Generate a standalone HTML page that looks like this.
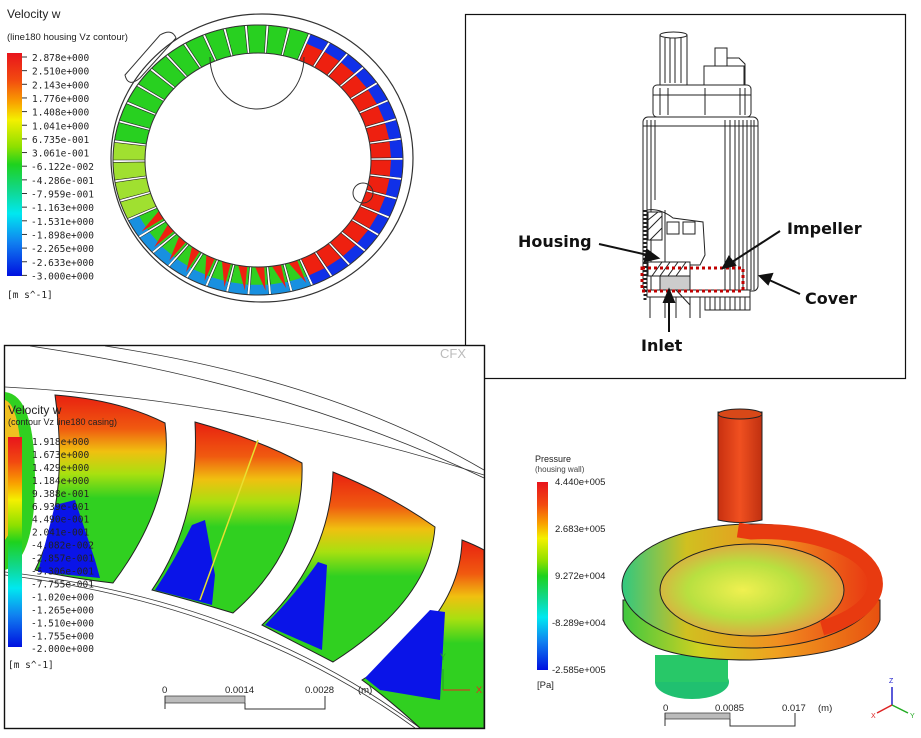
<!DOCTYPE html>
<html><head><meta charset="utf-8"><style>
html,body{margin:0;padding:0;background:#fff;width:921px;height:738px;overflow:hidden}
svg{display:block}
text{font-family:"Liberation Sans",sans-serif}
.lg{font-family:"DejaVu Sans Mono","Liberation Mono",monospace;font-size:9.5px;fill:#222}
.lb{font-family:"DejaVu Sans","Liberation Sans",sans-serif;font-weight:bold;font-size:16px;fill:#111}
</style></head><body>
<svg id="s" width="921" height="738" viewBox="0 0 921 738" xmlns="http://www.w3.org/2000/svg">
<defs>
<linearGradient id="rain" x1="0" y1="0" x2="0" y2="1">
<stop offset="0" stop-color="#e8141c"/><stop offset="0.12" stop-color="#f24a10"/><stop offset="0.22" stop-color="#f9a000"/><stop offset="0.3" stop-color="#f4f000"/><stop offset="0.42" stop-color="#8ee000"/><stop offset="0.5" stop-color="#1ed21e"/><stop offset="0.62" stop-color="#10d890"/><stop offset="0.72" stop-color="#00e8f0"/><stop offset="0.85" stop-color="#1080f0"/><stop offset="1" stop-color="#0010e0"/>
</linearGradient>
<linearGradient id="blade" x1="0" y1="0" x2="0" y2="1">
<stop offset="0" stop-color="#e82010"/><stop offset="0.18" stop-color="#f05a10"/><stop offset="0.3" stop-color="#f0c010"/><stop offset="0.42" stop-color="#a8e010"/><stop offset="0.55" stop-color="#30d020"/><stop offset="1" stop-color="#30d020"/>
</linearGradient>
<linearGradient id="press" x1="0" y1="0" x2="1" y2="0">
<stop offset="0" stop-color="#40c840"/><stop offset="0.3" stop-color="#d0d020"/><stop offset="0.6" stop-color="#f0a020"/><stop offset="1" stop-color="#e85010"/>
</linearGradient>
<radialGradient id="disk" cx="0.45" cy="0.5" r="0.6">
<stop offset="0" stop-color="#f0f050"/><stop offset="0.5" stop-color="#b8e040"/><stop offset="1" stop-color="#f09040"/>
</radialGradient>
<linearGradient id="tube" x1="0" y1="0" x2="1" y2="0">
<stop offset="0" stop-color="#c83010"/><stop offset="0.5" stop-color="#f05020"/><stop offset="1" stop-color="#c03010"/>
</linearGradient>
<linearGradient id="torus" x1="0" y1="0" x2="1" y2="0">
<stop offset="0" stop-color="#30c880"/><stop offset="0.25" stop-color="#d0c020"/><stop offset="0.6" stop-color="#f09020"/><stop offset="1" stop-color="#e83010"/>
</linearGradient>
</defs>

<!-- TOP LEFT -->
<text x="7" y="18" font-size="12" fill="#222">Velocity  w</text>
<text x="7" y="40" font-size="9.5" fill="#222">(line180  housing  Vz  contour)</text>
<rect x="7" y="53" width="15" height="223" fill="url(#rain)"/>
<g id="tl-labels"></g>
<text x="7" y="298" class="lg">[m  s^-1]</text>
<ellipse cx="262" cy="158" rx="151" ry="144" fill="none" stroke="#333" stroke-width="1.2"/>
<g id="ring"></g>
<ellipse cx="258" cy="160" rx="113" ry="107" fill="#fff" stroke="#333" stroke-width="1"/>
<path d="M210,57 A47,52 0 0 0 304,57" fill="none" stroke="#333"/>
<path d="M125,75 L160,35 Q172,28 176,38 L140,78 Q128,88 125,75Z" fill="none" stroke="#333"/>
<circle cx="363" cy="193" r="10" fill="none" stroke="#333"/>

<!-- TOP RIGHT PANEL -->
<rect x="465.5" y="14.5" width="440" height="364" fill="#fff" stroke="#111" stroke-width="1.2"/>
<g stroke="#222" fill="none" stroke-width="1">
<rect x="660" y="35" width="27" height="50" fill="#fff"/>
<ellipse cx="673.5" cy="35" rx="13.5" ry="3" fill="#fff"/>
<path d="M665,38V83 M670,38V83 M675,38V83 M681,38V83"/>
<rect x="715" y="48" width="12" height="18"/>
<rect x="704" y="66" width="40" height="19"/>
<path d="M727,58 H739 L745,64 V85"/>
<rect x="653" y="85" width="98" height="32" rx="4" fill="#fff"/>
<path d="M660,88V115 M668,88V115 M740,88V115 M745,88V115 M705,88V115 M653,95H751"/>
<rect x="643" y="117" width="115" height="174" rx="5" fill="#fff"/>
<path d="M647,120V290 M651,120V290 M655,120V200 M725,120V290 M730,120V290 M735,120V290 M739,120V290 M743,120V290 M747,120V290 M751,120V290 M754,120V290 M643,126H758"/>
<path d="M647,210 Q660,208 673,218 L703,222 L705,255 L700,265 L665,265 L665,210" fill="#fff"/>
<rect x="648" y="212" width="14" height="28" fill="#fff"/>
<path d="M648,220 L658,212 M648,230 L662,216 M650,240 L662,228"/>
<rect x="667" y="222" width="12" height="12"/><rect x="683" y="222" width="12" height="12"/>
<path d="M645,210V300" stroke-width="3" stroke-dasharray="2,2"/>
<rect x="648" y="262" width="42" height="14" fill="#fff"/>
<path d="M652,276 L662,262 M660,276 L670,262 M668,276 L678,262 M676,276 L686,262"/>
<rect x="660" y="276" width="30" height="14" fill="#ccc"/>
<rect x="647" y="290" width="103" height="7" fill="#fff"/>
<path d="M650,297V318 M665,297V318 M676,297V318 M690,297V318 M700,297V318"/>
<path d="M676,290 L690,305 L690,318 M705,297V310 H750 V297 M710,297V310 M715,297V310 M720,297V310 M725,297V310 M730,297V310 M735,297V310 M740,297V310 M745,297V310"/>
</g>
<rect x="642" y="268" width="101" height="23" fill="none" stroke="#c00000" stroke-width="3" stroke-dasharray="3,3"/>
<text x="518" y="247" class="lb">Housing</text>
<text x="787" y="234" class="lb">Impeller</text>
<text x="805" y="304" class="lb">Cover</text>
<text x="641" y="351" class="lb">Inlet</text>
<g stroke="#111" stroke-width="2" fill="#111">
<path d="M599,244 L652,256" fill="none"/><path d="M658,258 L647,250 L645,261Z"/>
<path d="M780,231 L729,264" fill="none"/><path d="M723,268 L729,257 L735,265Z"/>
<path d="M800,294 L767,279" fill="none"/><path d="M760,276 L772,274 L768,284Z"/>
<path d="M669,332 V296" fill="none"/><path d="M669,290 L664,302 L674,302Z"/>
</g>

<!-- BOTTOM LEFT PANEL -->
<rect x="4.5" y="345.5" width="480" height="383" fill="#fff" stroke="#111" stroke-width="1.4"/>
<svg x="5" y="346" width="479" height="382" viewBox="5 346 479 382">
<g fill="none" stroke="#333" stroke-width="0.8">
<path d="M105,346 Q330,380 484,470"/>
<path d="M30,346 Q290,385 484,478"/>
<path d="M5,387 Q250,400 484,475"/>
<path d="M5,572 Q250,600 420,728"/>
<path d="M5,575 Q245,605 415,728"/>
</g>
<path d="M5,392 Q35,395 35,480 Q35,560 5,570Z" fill="#30d020"/>
<path d="M5,400 Q20,405 22,470 Q20,520 5,540Z" fill="#f0c020"/>
<path d="M55,395 Q120,400 165,423 Q175,500 113,583 Q70,578 35,570 Q70,500 55,395Z" fill="url(#blade)" stroke="#222"/>
<path d="M55,505 L75,500 L95,560 L100,578 L38,572Z" fill="#0a14e8"/>
<path d="M195,422 Q260,440 302,463 Q305,550 233,613 Q190,600 152,590 Q200,520 195,422Z" fill="url(#blade)" stroke="#222"/>
<path d="M192,525 L205,520 L215,575 L212,605 L155,590 Q175,560 192,525Z" fill="#0a14e8"/>
<path d="M333,472 Q390,495 435,527 Q430,600 333,662 Q300,645 262,625 Q330,560 333,472Z" fill="url(#blade)" stroke="#222"/>
<path d="M318,562 L327,565 L322,650 L265,625 Q295,595 318,562Z" fill="#0a14e8"/>
<path d="M462,540 Q475,545 484,550 L484,728 L420,728 Q390,700 362,680 Q460,620 462,540Z" fill="url(#blade)" stroke="#222"/>
<path d="M430,610 L445,612 L440,700 L380,690 L365,678Z" fill="#0a14e8"/>
<path d="M258,440 L200,600" stroke="#e8e030" stroke-width="1.5"/>
</svg>
<text x="8" y="414" font-size="12" fill="#222">Velocity  w</text>
<text x="8" y="425" font-size="9" fill="#222">(contour  Vz  line180  casing)</text>
<rect x="8" y="437" width="14" height="210" fill="url(#rain)"/>
<g id="bl-labels"></g>
<text x="8" y="668" class="lg">[m  s^-1]</text>
<text x="440" y="358" font-size="13" fill="#bbb" font-family="Liberation Serif,serif">CFX</text>
<g class="lg"><text x="162" y="693">0</text><text x="225" y="693">0.0014</text><text x="305" y="693">0.0028</text><text x="358" y="693">(m)</text></g>
<rect x="165" y="696" width="80" height="7" fill="#bbb" stroke="#333" stroke-width="0.7"/>
<path d="M165,696V709 M245,703V709H325V696" fill="none" stroke="#333"/>
<path d="M443,690V669" stroke="#2a2" stroke-width="1.2"/><path d="M443,690H470" stroke="#e22"/>
<text x="476" y="693" font-size="9" fill="#e22">X</text><text x="440" y="660" font-size="9" fill="#2a2">Y</text>

<!-- BOTTOM RIGHT -->
<text x="535" y="462" font-size="9" fill="#222">Pressure</text>
<text x="535" y="472" font-size="8" fill="#444">(housing  wall)</text>
<rect x="537" y="482" width="11" height="188" fill="url(#rain)"/>
<g class="lg" font-size="8.5"><text x="555" y="485">4.440e+005</text><text x="555" y="532">2.683e+005</text><text x="555" y="579">9.272e+004</text><text x="552" y="626">-8.289e+004</text><text x="552" y="673">-2.585e+005</text><text x="537" y="688">[Pa]</text></g>
<ellipse cx="692" cy="682" rx="37" ry="17" fill="#20c070"/>
<rect x="655" y="655" width="73" height="27" fill="#28c868"/>
<path d="M623,600 V620 Q640,660 750,660 Q870,655 880,620 V600Z" fill="url(#press)" stroke="#222"/>
<ellipse cx="751" cy="586" rx="129" ry="62" fill="url(#torus)" stroke="#222"/>
<ellipse cx="752" cy="590" rx="92" ry="46" fill="url(#disk)" stroke="#222"/>
<path d="M718,412 H762 V520 Q740,525 718,520Z" fill="url(#tube)" stroke="#222"/>
<ellipse cx="740" cy="414" rx="22" ry="5" fill="#d84818" stroke="#222"/>
<path d="M738,530 L751,532 A112,52 0 0 1 822,628" fill="none" stroke="#e83a10" stroke-width="15"/>
<g class="lg" font-size="8.5"><text x="663" y="711">0</text><text x="715" y="711">0.0085</text><text x="782" y="711">0.017</text><text x="818" y="711">(m)</text></g>
<rect x="665" y="713" width="65" height="6" fill="#bbb" stroke="#333" stroke-width="0.7"/>
<path d="M665,713V726 M730,719V726H795V713" fill="none" stroke="#333"/>
<path d="M892,705V687" stroke="#22c" stroke-width="1.5"/><path d="M892,705L877,713" stroke="#d22" stroke-width="1.5"/><path d="M892,705L908,713" stroke="#2a2" stroke-width="1.5"/>
<text x="889" y="683" font-size="7" fill="#22c">Z</text><text x="871" y="718" font-size="7" fill="#d22">X</text><text x="910" y="718" font-size="7" fill="#2a2">Y</text>
</svg>
<script>
var NS="http://www.w3.org/2000/svg";
function add(p,tag,a,t){var e=document.createElementNS(NS,tag);for(var k in a)e.setAttribute(k,a[k]);if(t)e.textContent=t;p.appendChild(e);return e;}
var tl=["2.878e+000","2.510e+000","2.143e+000","1.776e+000","1.408e+000","1.041e+000","6.735e-001","3.061e-001","-6.122e-002","-4.286e-001","-7.959e-001","-1.163e+000","-1.531e+000","-1.898e+000","-2.265e+000","-2.633e+000","-3.000e+000"];
var g=document.getElementById("tl-labels");
tl.forEach(function(s,i){var y=57+i*13.65;add(g,"text",{x:s[0]=="-"?31:32,y:y+4,"class":"lg"},s);add(g,"line",{x1:22,x2:27,y1:y,y2:y,stroke:"#333"});});
var bl=["1.918e+000","1.673e+000","1.429e+000","1.184e+000","9.388e-001","6.939e-001","4.490e-001","2.041e-001","-4.082e-002","-2.857e-001","-5.306e-001","-7.755e-001","-1.020e+000","-1.265e+000","-1.510e+000","-1.755e+000","-2.000e+000"];
g=document.getElementById("bl-labels");
bl.forEach(function(s,i){var y=441+i*12.95;add(g,"text",{x:s[0]=="-"?31:32,y:y+4,"class":"lg"},s);});
var r=document.getElementById("ring"),cx=258,cy=160,Ro=[145,135],Ri=[113,107],N=42;
function pt(a,rx,ry){return (cx+rx*Math.cos(a)).toFixed(1)+","+(cy+ry*Math.sin(a)).toFixed(1);}
for(var i=0;i<N;i++){
 var a0=i/N*2*Math.PI,a1=(i+0.88)/N*2*Math.PI,deg=a0*180/Math.PI;
 var c="#20d020",oc=null,streak=false;
 if(deg>=185&&deg<290) c="#28d020";
 else if(deg>=290||deg<60){c="#ee2010";oc="#1030e8";}
 else if(deg>=60&&deg<150){c="#30d020";oc="#1890e0";streak=true;}
 else if(deg>=150&&deg<185){c="#a0e030";}
 var rm=[(Ro[0]+Ri[0])/2+4,(Ro[1]+Ri[1])/2+4];
 add(r,"path",{d:"M"+pt(a0,Ri[0],Ri[1])+" L"+pt(a0,Ro[0],Ro[1])+" A"+Ro[0]+","+Ro[1]+" 0 0 1 "+pt(a1,Ro[0],Ro[1])+" L"+pt(a1,Ri[0],Ri[1])+" A"+Ri[0]+","+Ri[1]+" 0 0 0 "+pt(a0,Ri[0],Ri[1])+"Z",fill:c,stroke:"#222","stroke-width":0.6});
 if(oc) add(r,"path",{d:"M"+pt(a0,rm[0],rm[1])+" L"+pt(a0,Ro[0],Ro[1])+" A"+Ro[0]+","+Ro[1]+" 0 0 1 "+pt(a1,Ro[0],Ro[1])+" L"+pt(a1,rm[0],rm[1])+"Z",fill:oc});
 if(streak) add(r,"path",{d:"M"+pt(a0+0.02,Ri[0],Ri[1])+" L"+pt(a0+0.02,rm[0]+6,rm[1]+6)+" L"+pt(a0+0.1,Ri[0],Ri[1])+"Z",fill:"#ee2010"});
}
add(r,"ellipse",{cx:cx,cy:cy,rx:Ro[0],ry:Ro[1],fill:"none",stroke:"#333","stroke-width":1});
</script>
</body></html>
